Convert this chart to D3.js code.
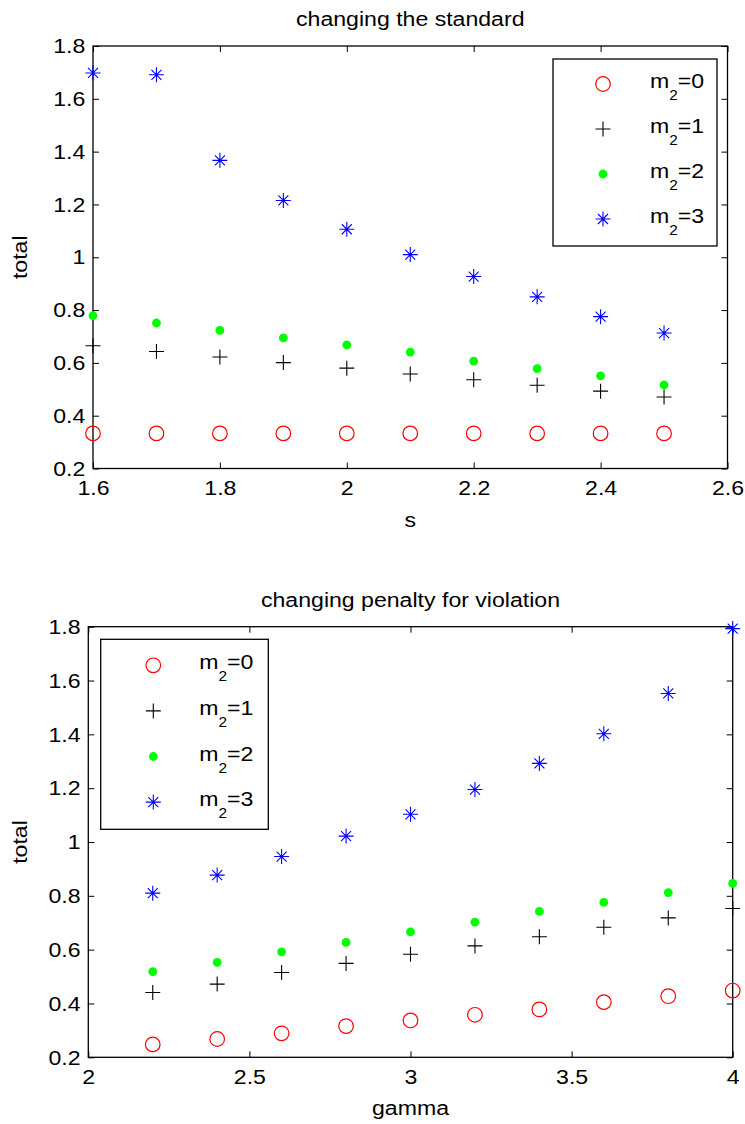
<!DOCTYPE html>
<html>
<head>
<meta charset="utf-8">
<script src="https://d3js.org/d3.v7.min.js"></script>
<style>
  html, body { margin: 0; padding: 0; background: #fff; }
  svg { display: block; }
  text { font-family: "Liberation Sans", Arial, Helvetica, sans-serif; fill: #000; }
</style>
</head>
<body>
<svg id="chart" width="745" height="1124"></svg>
<script>
// ---- data ----
const sValues = [1.6, 1.7, 1.8, 1.9, 2.0, 2.1, 2.2, 2.3, 2.4, 2.5];
const sTotalM0 = [0.333, 0.333, 0.333, 0.333, 0.333, 0.333, 0.333, 0.333, 0.333, 0.333];
const sTotalM1 = [0.665, 0.643, 0.622, 0.601, 0.580, 0.558, 0.536, 0.515, 0.493, 0.471];
const sTotalM2 = [0.779, 0.751, 0.723, 0.695, 0.668, 0.641, 0.607, 0.578, 0.551, 0.517];
const sTotalM3 = [1.698, 1.691, 1.367, 1.215, 1.106, 1.010, 0.927, 0.850, 0.775, 0.713];

const gammaValues = [2.2, 2.4, 2.6, 2.8, 3.0, 3.2, 3.4, 3.6, 3.8, 4.0];
const gTotalM0 = [0.248, 0.268, 0.289, 0.316, 0.337, 0.358, 0.378, 0.405, 0.427, 0.448];
const gTotalM1 = [0.441, 0.472, 0.515, 0.549, 0.583, 0.614, 0.648, 0.683, 0.718, 0.753];
const gTotalM2 = [0.518, 0.553, 0.592, 0.627, 0.666, 0.702, 0.742, 0.776, 0.812, 0.846];
const gTotalM3 = [0.810, 0.877, 0.946, 1.022, 1.103, 1.195, 1.292, 1.402, 1.552, 1.793];

const m2Levels = ["0", "1", "2", "3"];

const sTicks = [1.6, 1.8, 2, 2.2, 2.4, 2.6];
const gammaTicks = [2, 2.5, 3, 3.5, 4];
const totalTicks = [0.2, 0.4, 0.6, 0.8, 1, 1.2, 1.4, 1.6, 1.8];

// ---- styling ----
const FONT = 21;
const STRETCH = "scale(1.1,1)";
const TICK = 6;

const markerStyles = [
  { kind: "circle", color: "#ff0000" },
  { kind: "plus",   color: "#000000" },
  { kind: "dot",    color: "#00ff00" },
  { kind: "star",   color: "#0000ff" }
];

const svg = d3.select("#chart");

function drawMarker(g, kind, color) {
  if (kind === "circle") {
    g.append("circle").attr("r", 7.3).attr("fill", "none")
      .attr("stroke", color).attr("stroke-width", 1.2);
  } else if (kind === "plus") {
    g.append("path").attr("d", "M-7.5,0H7.5M0,-7.5V7.5")
      .attr("stroke", color).attr("stroke-width", 1.1).attr("fill", "none");
  } else if (kind === "dot") {
    g.append("circle").attr("r", 4.4).attr("fill", color);
  } else if (kind === "star") {
    g.append("path").attr("d", "M-7.5,0H7.5M0,-7.5V7.5M-5,-5L5,5M-5,5L5,-5")
      .attr("stroke", color).attr("stroke-width", 1.1).attr("fill", "none");
  }
}

function stretchedText(parent, x, y, str, anchor) {
  return parent.append("text")
    .attr("transform", `translate(${x},${y}) ${STRETCH}`)
    .attr("text-anchor", anchor || "middle")
    .attr("font-size", FONT)
    .text(str);
}

function legendLabel(parent, x, y, level) {
  const t = parent.append("text")
    .attr("transform", `translate(${x},${y}) ${STRETCH}`)
    .attr("font-size", FONT);
  t.append("tspan").text("m");
  t.append("tspan").attr("font-size", 14).attr("dy", 12).text("2");
  t.append("tspan").attr("dy", -12).text("=" + level);
}

function panel(opts) {
  const { left, right, top, bottom, xDomain, xTicks, xs, seriesList,
          title, xLabel, legend } = opts;

  const x = d3.scaleLinear().domain(xDomain).range([left, right]);
  const y = d3.scaleLinear().domain([0.2, 1.8]).range([bottom, top]);
  const g = svg.append("g");

  // axes box
  g.append("rect")
    .attr("x", left).attr("y", top)
    .attr("width", right - left).attr("height", bottom - top)
    .attr("fill", "none").attr("stroke", "#000").attr("stroke-width", 1.3);

  const fmt = d => String(d);

  const xb = g.append("g").attr("transform", `translate(0,${bottom})`)
    .call(d3.axisBottom(x).tickValues(xTicks).tickFormat(fmt)
      .tickSize(-TICK).tickPadding(12));
  const xt = g.append("g").attr("transform", `translate(0,${top})`)
    .call(d3.axisTop(x).tickValues(xTicks).tickFormat("").tickSize(-TICK));
  const yl = g.append("g").attr("transform", `translate(${left},0)`)
    .call(d3.axisLeft(y).tickValues(totalTicks).tickFormat(fmt)
      .tickSize(-TICK).tickPadding(7));
  const yr = g.append("g").attr("transform", `translate(${right},0)`)
    .call(d3.axisRight(y).tickValues(totalTicks).tickFormat("").tickSize(-TICK));

  [xb, xt, yl, yr].forEach(a => {
    a.select(".domain").remove();
    a.selectAll("line").attr("stroke", "#000").attr("stroke-width", 1);
    a.selectAll("text")
      .attr("font-size", FONT)
      .attr("font-family", '"Liberation Sans", Arial, sans-serif')
      .attr("fill", "#000")
      .attr("transform", STRETCH);
  });

  // data points
  seriesList.forEach((vals, i) => {
    const st = markerStyles[i];
    g.append("g").selectAll("g")
      .data(vals.map((v, k) => [xs[k], v]))
      .join("g")
      .attr("transform", d => `translate(${x(d[0])},${y(d[1])})`)
      .each(function () { drawMarker(d3.select(this), st.kind, st.color); });
  });

  // title and axis labels
  const cx = (left + right) / 2;
  stretchedText(g, cx, top - 20, title);
  stretchedText(g, cx, bottom + 58, xLabel);
  g.append("text")
    .attr("transform", `translate(27,${(top + bottom) / 2}) rotate(-90) ${STRETCH}`)
    .attr("text-anchor", "middle")
    .attr("font-size", FONT)
    .text("total");

  // legend
  const lg = g.append("g");
  lg.append("rect")
    .attr("x", legend.x).attr("y", legend.y)
    .attr("width", legend.w).attr("height", legend.h)
    .attr("fill", "#fff").attr("stroke", "#000").attr("stroke-width", 1.3);
  m2Levels.forEach((lvl, i) => {
    const ry = legend.y + legend.firstRow + i * legend.rowGap;
    const mg = lg.append("g").attr("transform", `translate(${legend.x + legend.markerDx},${ry})`);
    drawMarker(mg, markerStyles[i].kind, markerStyles[i].color);
    legendLabel(lg, legend.x + legend.textDx, ry + 4, lvl);
  });
}

panel({
  left: 93, right: 727.5, top: 46, bottom: 468.5,
  xDomain: [1.6, 2.6], xTicks: sTicks, xs: sValues,
  seriesList: [sTotalM0, sTotalM1, sTotalM2, sTotalM3],
  title: "changing the standard", xLabel: "s",
  legend: { x: 553, y: 59, w: 164, h: 187, firstRow: 25, rowGap: 45,
            markerDx: 50, textDx: 97 }
});

panel({
  left: 88.3, right: 732.7, top: 626.7, bottom: 1057.3,
  xDomain: [2, 4], xTicks: gammaTicks, xs: gammaValues,
  seriesList: [gTotalM0, gTotalM1, gTotalM2, gTotalM3],
  title: "changing penalty for violation", xLabel: "gamma",
  legend: { x: 100.7, y: 639.3, w: 167.6, h: 190, firstRow: 26, rowGap: 45.6,
            markerDx: 52.6, textDx: 98.6 }
});
</script>
</body>
</html>
